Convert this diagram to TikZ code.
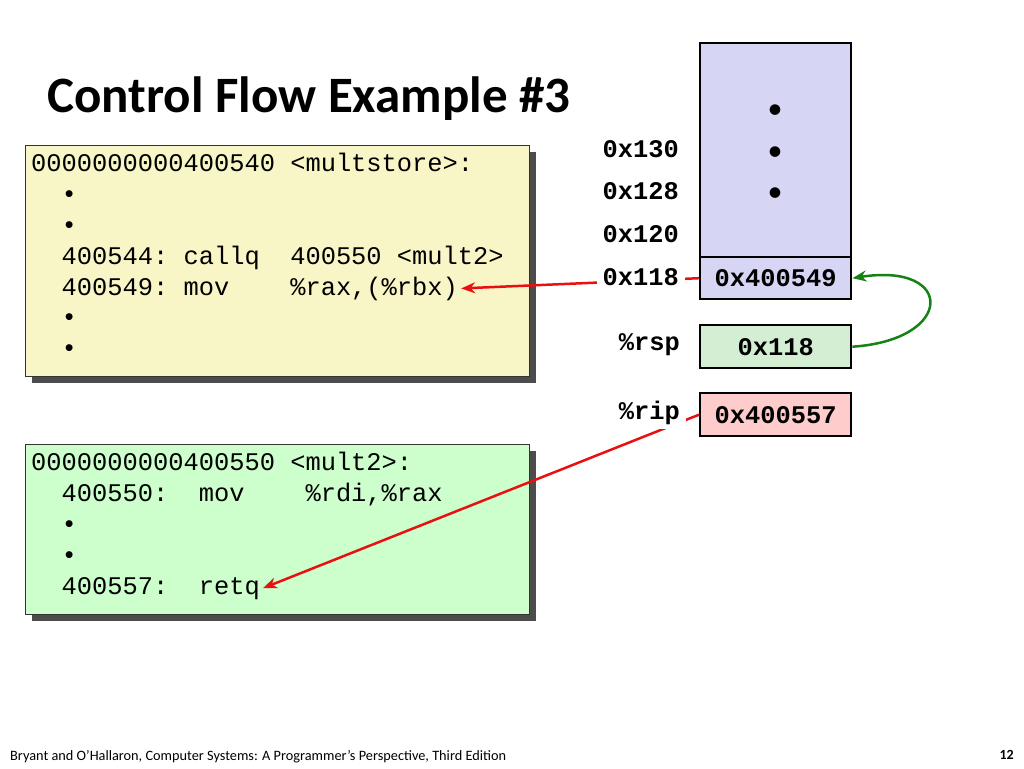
\documentclass[tikz,border=0pt]{standalone}
\usepackage{fontspec}
\setmainfont{Carlito}
\setmonofont{Liberation Mono}
\usepackage{xcolor}
\usetikzlibrary{arrows.meta, positioning, shadows}

\definecolor{codeyellow}{RGB}{248,245,198}
\definecolor{codegreen}{RGB}{204,255,204}
\definecolor{stackblue}{RGB}{214,214,244}
\definecolor{rspgreen}{RGB}{212,238,212}
\definecolor{ripred}{RGB}{255,204,204}
\definecolor{arrowred}{RGB}{232,16,16}
\definecolor{arrowgreen}{RGB}{20,130,20}

\begin{document}
\begin{tikzpicture}[x=1pt, y=-1pt,
    codebox/.style={draw=black!80, line width=1.2pt, anchor=north west, minimum width=504pt,
        drop shadow={shadow xshift=6pt, shadow yshift=-6pt, fill=black!70, opacity=1}},
    codeline/.style={anchor=base west, inner sep=3pt, font=\ttfamily\fontsize{25.4}{30}\selectfont},
    cell/.style={draw=black, line width=2.4pt, anchor=north west, minimum width=151pt, inner sep=0pt,
        font=\ttfamily\bfseries\fontsize{25.4}{30}\selectfont},
    addr/.style={anchor=east, inner xsep=6pt, inner ysep=4pt, fill=white,
        font=\ttfamily\bfseries\fontsize{25.4}{30}\selectfont},
    stackdot/.style={font=\fontsize{30}{30}\selectfont, inner sep=0pt},
    redarrow/.style={draw=arrowred, line width=2.5pt, -{Stealth[length=14pt, width=11pt]}},
    greenarrow/.style={draw=arrowgreen, line width=2.5pt, -{Stealth[length=14pt, width=11pt]}}]

    \useasboundingbox (0,0) rectangle (1024,768);

    % Titel
    \node[anchor=base west, inner sep=0pt, font=\bfseries\fontsize{51}{58}\selectfont] (title) at (47,112) {Control Flow Example \#3};

    % multstore
    \node[codebox, fill=codeyellow, minimum height=231pt] (multstore) at (25,145) {};
    \node[codeline] (ms1) at (28,171) {0000000000400540 <multstore>:};
    \node[codeline] (ms2) at (28,202) {~~•};
    \node[codeline] (ms3) at (28,233) {~~•};
    \node[codeline] (ms4) at (28,264) {~~400544: callq~~400550 <mult2>};
    \node[codeline] (ms5) at (28,295) {~~400549: mov~~~~\%rax,(\%rbx)};
    \node[codeline] (ms6) at (28,325) {~~•};
    \node[codeline] (ms7) at (28,356) {~~•};

    % mult2
    \node[codebox, fill=codegreen, minimum height=170pt] (mult2) at (25,444) {};
    \node[codeline] (mt1) at (28,470) {0000000000400550 <mult2>:};
    \node[codeline] (mt2) at (28,501) {~~400550:~~mov~~~~\%rdi,\%rax};
    \node[codeline] (mt3) at (28,532) {~~•};
    \node[codeline] (mt4) at (28,563) {~~•};
    \node[codeline] (mt5) at (28,594) {~~400557:~~retq};

    % Stack
    \node[cell, fill=stackblue, minimum height=256pt] (stack) at (699,42) {};
    \node[cell, fill=stackblue, minimum height=42pt] (ret) at (699,256) {0x400549};
    \node[stackdot] (dot1) at (775,112) {•};
    \node[stackdot] (dot2) at (775,154) {•};
    \node[stackdot] (dot3) at (775,195) {•};

    % Register
    \node[cell, fill=rspgreen, minimum height=43pt] (rsp) at (699,324) {0x118};
    \node[cell, fill=ripred, minimum height=43pt] (rip) at (699,392) {0x400557};

    % Pfeile
    \draw[redarrow] (ret.west) -- (ms5.east);
    \draw[redarrow] (rip.west) -- (mt5.east);
    \draw[greenarrow] (rsp.east) .. controls (955,340) and (955,262) .. (ret.east);

    % Adressen
    \node[addr] (a130) at (685,149) {0x130};
    \node[addr] (a128) at (685,191) {0x128};
    \node[addr] (a120) at (685,234) {0x120};
    \node[addr] (a118) at (685,277) {0x118};
    \node[addr] (lrsp) at (686,345) {\%rsp};
    \node[addr] (lrip) at (686,413) {\%rip};

    % Fusszeile
    \node[anchor=base west, inner sep=0pt, font=\fontsize{14.3}{16}\selectfont] (footer) at (10,760) {Bryant and O’Hallaron, Computer Systems: A Programmer’s Perspective, Third Edition};
    \node[anchor=base east, inner sep=0pt, font=\bfseries\fontsize{14}{16}\selectfont] (page) at (1014,759) {12};
\end{tikzpicture}
\end{document}
